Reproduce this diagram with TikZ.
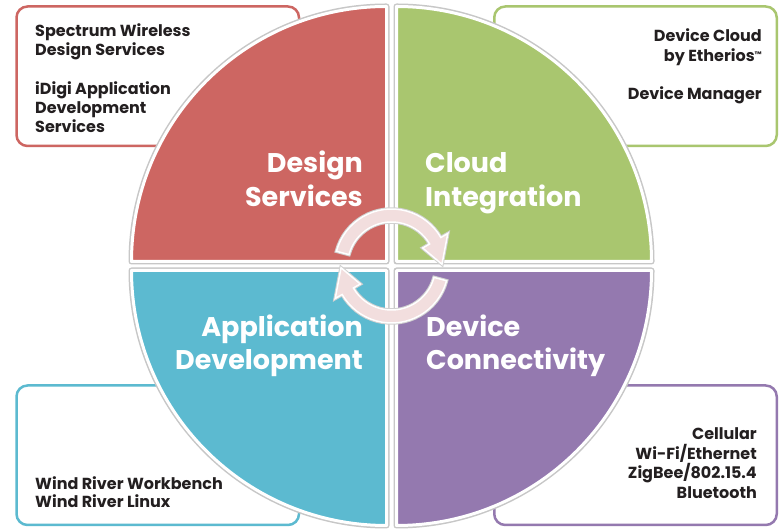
\documentclass[tikz,border=0pt]{standalone}
\usepackage{fontspec}
\setmainfont{Poppins}
\definecolor{qred}{HTML}{CD6662}
\definecolor{qgreen}{HTML}{A9C66F}
\definecolor{qblue}{HTML}{5CBAD0}
\definecolor{qpurple}{HTML}{9479AF}
\definecolor{txtdark}{HTML}{231F20}
\definecolor{arrowpink}{HTML}{F2DEDE}
\begin{document}
\begin{tikzpicture}[x=1pt,y=1pt,
  infobox/.style={draw=#1, line width=2.5pt, rounded corners=11pt, fill=white,
    minimum width=282.5pt, minimum height=139.5pt, inner sep=0pt},
  small/.style={font=\fontsize{16}{19}\selectfont\bfseries, text=txtdark, inner sep=0pt},
  big/.style={font=\fontsize{27}{33}\selectfont\bfseries, text=white, inner sep=0pt},
  quad/.style={fill=#1, draw=white, line width=3pt, line join=round,
    preaction={draw=black!22, line width=6pt, line join=round}},
  cyc/.style={fill=arrowpink, draw=white, line width=1.5pt, line join=miter,
    preaction={draw=black!18, line width=3.5pt}}
]
\useasboundingbox (0,0) rectangle (783,529);
\fill[white] (0,0) rectangle (783,529);

% corner boxes
\node[infobox=qred, anchor=north west] (boxtl) at (15.25,523.75) {};
\node[infobox=qgreen, anchor=north east] (boxtr) at (778,523.75) {};
\node[infobox=qblue, anchor=south west] (boxbl) at (15.25,2.75) {};
\node[infobox=qpurple, anchor=south east] (boxbr) at (778,2.75) {};

% quadrants
\path[quad=qred] (386.5,267.5) -- ++(180:255) arc[start angle=180, end angle=90, radius=255] -- cycle;
\path[quad=qgreen] (396.5,267.5) -- ++(0:255) arc[start angle=0, end angle=90, radius=255] -- cycle;
\path[quad=qblue] (386.5,258.5) -- ++(180:255) arc[start angle=180, end angle=270, radius=255] -- cycle;
\path[quad=qpurple] (396.5,258.5) -- ++(0:255) arc[start angle=0, end angle=-90, radius=255] -- cycle;

% cycle arrows
\begin{scope}[shift={(391.5,263)}]
\path[cyc] (165:57) arc[start angle=165, end angle=30, radius=57]
  -- (30:65) -- (2:50.5) -- (30:36) -- (30:44)
  arc[start angle=30, end angle=165, radius=44] -- cycle;
\path[cyc] (-15:57) arc[start angle=-15, end angle=-150, radius=57]
  -- (-150:65) -- (-178:50.5) -- (-150:36) -- (-150:44)
  arc[start angle=-150, end angle=-15, radius=44] -- cycle;
\end{scope}

% big labels
\node[big, anchor=base east] (ds1) at (363,356) {Design};
\node[big, anchor=base east] (ds2) at (363,322) {Services};
\node[big, anchor=base west] (ci1) at (425,356) {Cloud};
\node[big, anchor=base west] (ci2) at (425,322) {Integration};
\node[big, anchor=base east] (ad1) at (363,192) {Application};
\node[big, anchor=base east] (ad2) at (363,159) {Development};
\node[big, anchor=base west] (dc1) at (426,192) {Device};
\node[big, anchor=base west] (dc2) at (426,159) {Connectivity};

% box texts
\node[small, anchor=base west] (tl1) at (35,492.3) {Spectrum Wireless};
\node[small, anchor=base west] (tl2) at (35,473.3) {Design Services};
\node[small, anchor=base west] (tl3) at (35,434) {iDigi Application};
\node[small, anchor=base west] (tl4) at (35,415.7) {Development};
\node[small, anchor=base west] (tl5) at (35,396.3) {Services};

\node[small, anchor=base east] (tr1) at (762,487.3) {Device Cloud};
\node[small, anchor=base east] (tr2) at (762,467.3) {by Etherios{\fontsize{8}{8}\selectfont\raisebox{4pt}{™}}};
\node[small, anchor=base east] (tr3) at (762,429) {Device Manager};

\node[small, anchor=base west] (bl1) at (35,39.7) {Wind River Workbench};
\node[small, anchor=base west] (bl2) at (35,21.7) {Wind River Linux};

\node[small, anchor=base east] (br1) at (757,89) {Cellular};
\node[small, anchor=base east] (br2) at (757,69) {Wi-Fi/Ethernet};
\node[small, anchor=base east] (br3) at (757,50.7) {ZigBee/802.15.4};
\node[small, anchor=base east] (br4) at (757,30.7) {Bluetooth};
\end{tikzpicture}
\end{document}
